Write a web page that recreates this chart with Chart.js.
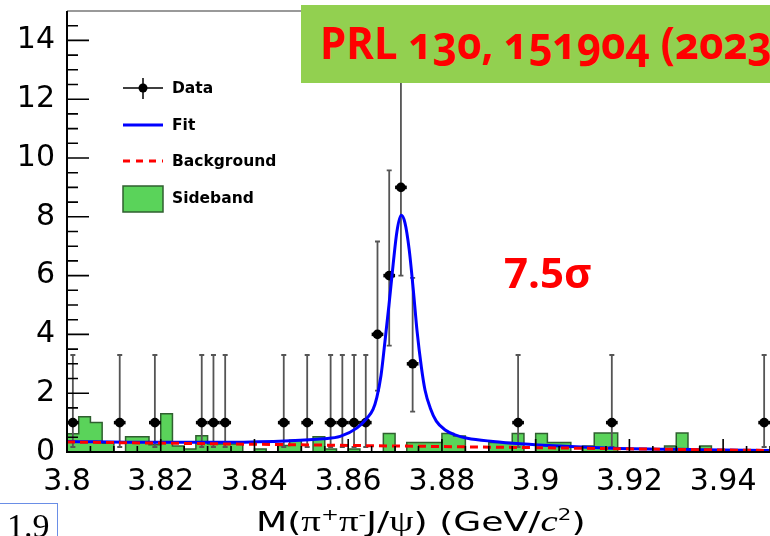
<!DOCTYPE html>
<html>
<head>
<meta charset="utf-8">
<script src="https://cdn.jsdelivr.net/npm/chart.js@4.4.0/dist/chart.umd.min.js"></script>
<style>
  html, body { margin: 0; padding: 0; background: #fff; overflow: hidden; }
  #wrap { position: relative; width: 770px; height: 536px; overflow: hidden; }
  #plot { position: absolute; left: 0; top: 0; }
  .ref { position: absolute; left: 301px; top: 5px; width: 490px; height: 78px; background: #92d050; }
  .ref span { position: absolute; left: 19px; top: 10px; line-height: 60px; white-space: nowrap;
              color: #ff0000; font: bold 42px "Open Sans"; font-variant-numeric: oldstyle-nums;
              transform: scaleY(1.06); transform-origin: left bottom; }
  .signif { position: absolute; left: 504px; top: 243px; white-space: nowrap;
            color: #ff0000; font: bold 42px "Open Sans"; }
  .ver { position: absolute; left: -1px; top: 503px; width: 57px; height: 40px; border: 1px solid #6a8ee6; }
  .ver span { position: absolute; left: 7px; top: 3px; line-height: 34px; font: 34px "Liberation Serif"; color: #000; }
  .xtitle { position: absolute; left: 256px; top: 506px; white-space: nowrap;
            font: 27px "DejaVu Sans"; line-height: 30px; color: #000;
            transform: scaleX(1.34); transform-origin: left top; }
  .xtitle .gk { font-family: "Liberation Serif"; font-size: 29px; }
  .xtitle i { font-family: "Liberation Serif"; font-size: 29px; }
  .xtitle sup { font-size: 16px; position: relative; top: -11px; vertical-align: baseline; }
</style>
</head>
<body>
<div id="wrap">
  <canvas id="plot" width="770" height="536"></canvas>
  <div class="ref"><span>PRL 130, 151904 (2023)</span></div>
  <div class="signif">7.5σ</div>
  <div class="ver"><span>1.9</span></div>
  <div class="xtitle">M(<span class="gk">π</span><sup>+</sup><span class="gk">π</span><sup>-</sup>J/<span class="gk">ψ</span>) (GeV/<i>c</i><sup>2</sup>)</div>
</div>
<script>
// data points (bin centres, counts and Poisson error band ends)
var dataMass = [3.80125, 3.81125, 3.81875, 3.82875, 3.83125, 3.83375, 3.84625, 3.85125, 3.85625, 3.85875,
                3.86125, 3.86375, 3.86625, 3.86875, 3.87125, 3.87375, 3.89625, 3.91625, 3.94875];
var dataCounts = [1, 1, 1, 1, 1, 1, 1, 1, 1, 1, 1, 1, 4, 6, 9, 3, 1, 1, 1];
var dataLow = [0.17, 0.17, 0.17, 0.17, 0.17, 0.17, 0.17, 0.17, 0.17, 0.17, 0.17, 0.17, 2.09, 3.62, 6.0, 1.37, 0.17, 0.17, 0.17];
var dataHigh = [3.3, 3.3, 3.3, 3.3, 3.3, 3.3, 3.3, 3.3, 3.3, 3.3, 3.3, 3.3, 7.16, 9.58, 13.1, 5.92, 3.3, 3.3, 3.3];
var binWidth = 0.0025;

// sideband histogram, one value per bin starting at 3.8
var sideStart = 3.8;
var sideband = [0.62, 1.2, 1.0, 0.3, 0, 0.52, 0.52, 0.25, 1.3, 0.2,
                0.1, 0.55, 0.27, 0.27, 0.27, 0, 0.1, 0, 0.22, 0.4,
                0, 0.52, 0.1, 0, 0.1, 0, 0, 0.63, 0, 0.32,
                0.32, 0.32, 0.63, 0.54, 0, 0, 0.32, 0.32, 0.63, 0,
                0.63, 0.32, 0.32, 0, 0.2, 0.65, 0.65, 0, 0, 0,
                0, 0.2, 0.65, 0, 0.2, 0, 0, 0, 0, 0];

// fit curve
var fitMass = [3.8, 3.8177, 3.8348, 3.8476, 3.8546, 3.8583, 3.8619, 3.864, 3.8653, 3.8661,
               3.867, 3.8678, 3.8687, 3.8696, 3.8704, 3.8713, 3.8721, 3.873, 3.8739, 3.8747,
               3.8756, 3.8764, 3.8775, 3.8788, 3.8807, 3.8828, 3.8854, 3.8909, 3.8967, 3.9052,
               3.9165, 3.9351, 3.9501];
var fitValue = [0.36, 0.33, 0.33, 0.38, 0.45, 0.53, 0.82, 1.15, 1.45, 1.85,
                2.6, 3.7, 5.0, 6.4, 7.5, 8.05, 7.8, 6.9, 5.5, 4.1,
                2.9, 2.1, 1.5, 1.05, 0.75, 0.58, 0.47, 0.36, 0.28, 0.2,
                0.13, 0.08, 0.05];

// background
var bgMass = [3.8, 3.95];
var bgValue = [0.34, 0.05];

var xTicks = [3.8, 3.82, 3.84, 3.86, 3.88, 3.9, 3.92, 3.94];
var yTicks = [0, 2, 4, 6, 8, 10, 12, 14];

var GREEN = '#5ad35a';
var GREEN_EDGE = '#2f5f2f';

function pairs(xs, ys) {
  return xs.map(function (x, i) { return { x: x, y: ys[i] }; });
}

var sidePoints = sideband.map(function (h, i) { return { x: sideStart + i * binWidth, y: h }; });
sidePoints.push({ x: sideStart + sideband.length * binWidth, y: sideband[sideband.length - 1] });

// error bars, bin-width bars, axis ticks, frame and legend
var rootStyle = {
  id: 'rootStyle',
  beforeDatasetDraw: function (chart, args) {
    if (args.index !== 0) return;
    var c = chart.ctx, xs = chart.scales.x, ys = chart.scales.y;
    c.save();
    dataMass.forEach(function (m, i) {
      var px = xs.getPixelForValue(m);
      var py = ys.getPixelForValue(dataCounts[i]);
      var top = ys.getPixelForValue(Math.min(dataHigh[i], 15));
      var bot = ys.getPixelForValue(dataLow[i]);
      c.strokeStyle = '#555';
      c.lineWidth = 1.8;
      c.beginPath();
      c.moveTo(px, top); c.lineTo(px, bot);
      c.moveTo(px - 2.5, top); c.lineTo(px + 2.5, top);
      c.moveTo(px - 2.5, bot); c.lineTo(px + 2.5, bot);
      c.stroke();
      c.strokeStyle = '#000';
      c.lineWidth = 3.5;
      c.beginPath();
      c.moveTo(xs.getPixelForValue(m - binWidth / 2), py);
      c.lineTo(xs.getPixelForValue(m + binWidth / 2), py);
      c.stroke();
    });
    c.restore();
  },
  afterDatasetsDraw: function (chart) {
    var c = chart.ctx, xs = chart.scales.x, ys = chart.scales.y, a = chart.chartArea;
    c.save();
    // frame
    c.strokeStyle = '#999';
    c.lineWidth = 2;
    c.beginPath(); c.moveTo(a.left, a.top); c.lineTo(a.right, a.top); c.stroke();
    c.strokeStyle = '#000';
    c.beginPath();
    c.moveTo(a.left, a.top); c.lineTo(a.left, a.bottom); c.lineTo(a.right, a.bottom);
    c.stroke();
    // ticks inside the frame
    c.lineWidth = 1.6;
    c.beginPath();
    for (var i = 1; i < 30; i++) {
      var v = 0.5 * i;
      var py = ys.getPixelForValue(v);
      var len = (i % 4 === 0) ? 22 : 11;
      c.moveTo(a.left, py); c.lineTo(a.left + len, py);
    }
    for (var j = 1; j <= 30; j++) {
      var px = xs.getPixelForValue(3.8 + 0.005 * j);
      var l2 = (j % 4 === 0) ? 13 : 6;
      c.moveTo(px, a.bottom); c.lineTo(px, a.bottom - l2);
    }
    c.stroke();

    // legend
    c.font = 'bold 15.5px "DejaVu Sans"';
    c.textBaseline = 'middle';
    c.fillStyle = '#000';
    c.strokeStyle = '#000';
    c.lineWidth = 1.5;
    c.beginPath();
    c.moveTo(123, 88); c.lineTo(163, 88);
    c.moveTo(143, 78); c.lineTo(143, 99);
    c.stroke();
    c.beginPath(); c.arc(143, 88, 4.5, 0, Math.PI * 2); c.fill();
    c.fillText('Data', 172, 89);

    c.strokeStyle = '#0000ff';
    c.lineWidth = 3;
    c.beginPath(); c.moveTo(123, 125); c.lineTo(163, 125); c.stroke();
    c.fillText('Fit', 172, 126);

    c.strokeStyle = '#ff0000';
    c.setLineDash([7, 6]);
    c.beginPath(); c.moveTo(123, 161); c.lineTo(163, 161); c.stroke();
    c.setLineDash([]);
    c.fillText('Background', 172, 162);

    c.fillStyle = GREEN;
    c.fillRect(123, 186, 40, 26);
    c.strokeStyle = GREEN_EDGE;
    c.lineWidth = 1.5;
    c.strokeRect(123, 186, 40, 26);
    c.fillStyle = '#000';
    c.fillText('Sideband', 172, 199);
    c.restore();
  }
};

Chart.defaults.font.family = '"DejaVu Sans"';

var ctx = document.getElementById('plot').getContext('2d');
var chart = new Chart(ctx, {
  type: 'scatter',
  data: {
    datasets: [{
      // data
      data: pairs(dataMass, dataCounts),
      pointStyle: 'circle',
      pointRadius: 4.8,
      pointBackgroundColor: '#000',
      pointBorderColor: '#000',
      pointBorderWidth: 0,
      showLine: false,
      order: 2
    }, {
      // sideband
      data: sidePoints,
      showLine: true,
      stepped: 'before',
      fill: 'origin',
      backgroundColor: GREEN,
      borderColor: GREEN_EDGE,
      borderWidth: 1.5,
      pointRadius: 0,
      order: 3
    }, {
      // fit
      data: pairs(fitMass, fitValue),
      showLine: true,
      cubicInterpolationMode: 'monotone',
      borderColor: '#0000ff',
      borderWidth: 3,
      pointRadius: 0,
      order: 1
    }, {
      // background
      data: pairs(bgMass, bgValue),
      showLine: true,
      borderColor: '#ff0000',
      borderWidth: 3,
      borderDash: [8, 5],
      pointRadius: 0,
      order: 0
    }]
  },
  options: {
    responsive: false,
    animation: false,
    devicePixelRatio: 1,
    layout: { autoPadding: false, padding: { top: 11, left: 0, right: 0, bottom: 0 } },
    plugins: { legend: { display: false }, tooltip: { enabled: false } },
    scales: {
      x: {
        type: 'linear',
        min: 3.8,
        max: 3.95,
        grid: { display: false, drawTicks: false },
        border: { display: false },
        afterBuildTicks: function (s) { s.ticks = xTicks.map(function (v) { return { value: v }; }); },
        afterFit: function (s) { s.height = 84; s.paddingLeft = 0; s.paddingRight = 0; },
        ticks: {
          padding: 12,
          color: '#000',
          maxRotation: 0,
          autoSkip: false,
          font: { family: '"DejaVu Sans"', size: 30 },
          callback: function (v) { return String(+(+v).toFixed(2)); }
        }
      },
      y: {
        min: 0,
        max: 15,
        grid: { display: false, drawTicks: false },
        border: { display: false },
        afterBuildTicks: function (s) { s.ticks = yTicks.map(function (v) { return { value: v }; }); },
        afterFit: function (s) { s.width = 67; s.paddingTop = 0; s.paddingBottom = 0; },
        ticks: {
          padding: 12,
          color: '#000',
          font: { family: '"DejaVu Sans"', size: 30 }
        }
      }
    }
  },
  plugins: [rootStyle]
});
</script>
</body>
</html>
